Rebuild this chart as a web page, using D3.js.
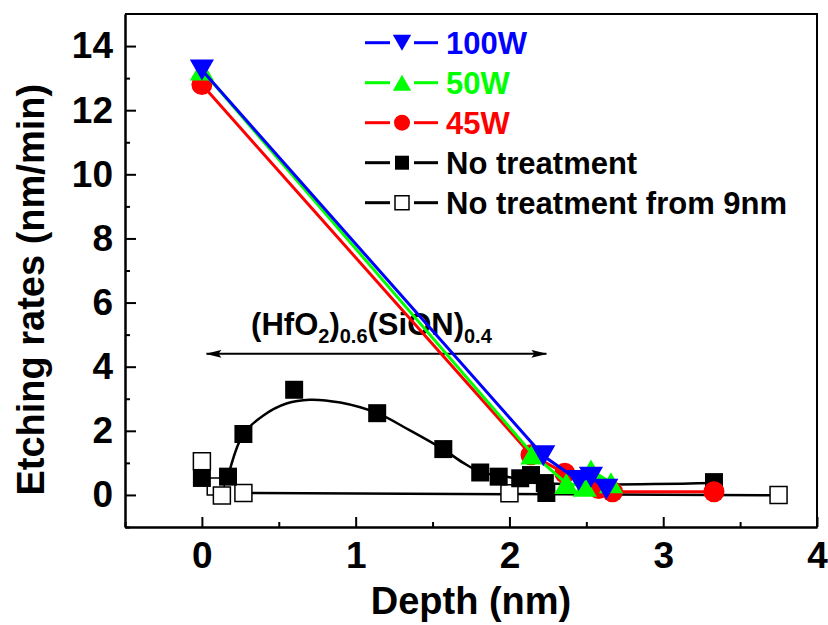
<!DOCTYPE html>
<html>
<head>
<meta charset="utf-8">
<script src="https://cdn.jsdelivr.net/npm/d3@7"></script>
<style>
  body { margin: 0; background: #fff; }
  text { font-family: "Liberation Sans", Arial, sans-serif; font-weight: bold; }
</style>
</head>
<body>
<script>
// data
const depth100W = [0, 2.22, 2.45, 2.53, 2.63];
const rate100W  = [13.25, 1.22, 0.45, 0.55, 0.18];

const depth50W = [0, 2.15, 2.37, 2.49, 2.53, 2.66];
const rate50W  = [13.25, 1.28, 0.36, 0.27, 0.78, 0.38];

const depth45W = [0, 2.14, 2.36, 2.58, 2.67, 3.33];
const rate45W  = [12.8, 1.25, 0.68, 0.2, 0.1, 0.1];

const depthNoTreat = [0, 0.17, 0.27, 0.6, 1.14, 1.57, 1.81, 1.93, 2.07, 2.14, 2.23, 2.24, 3.33];
const rateNoTreat  = [0.53, 0.57, 1.9, 3.28, 2.55, 1.43, 0.7, 0.57, 0.52, 0.62, 0.37, 0.06, 0.4];

// smooth guide line drawn through the "No treatment" points
const fitNoTreatX = [0.17, 0.27, 0.4, 0.55, 0.7, 0.9, 1.14, 1.35, 1.57, 1.7, 1.81, 2.0, 2.23, 3.33];
const fitNoTreatY = [0.57, 1.9, 2.48, 2.85, 2.97, 2.88, 2.55, 2.02, 1.42, 1.0, 0.72, 0.55, 0.37, 0.37];

const depth9nm = [0, 0.09, 0.13, 0.27, 2.0, 3.75];
const rate9nm  = [1.05, 0.26, -0.02, 0.06, 0.05, 0.0];
const fit9nmX = [0.27, 3.75];
const fit9nmY = [0.06, -0.01];

const legendLabels = ["100W", "50W", "45W", "No treatment", "No treatment from 9nm"];
const xTicks = [0, 1, 2, 3, 4];
const yTicks = [0, 2, 4, 6, 8, 10, 12, 14];

let margin = null, width = null, height = null;
let svg = null, plot = null;
let x, y = null;

setupCanvasSize();
appendSvg("body");
setupScales();
appendAxes();
appendAnnotation();
appendSeries();
appendLegend();

function setupCanvasSize() {
  margin = {top: 14, left: 125, bottom: 98, right: 11};
  width = 828 - margin.left - margin.right;
  height = 625 - margin.top - margin.bottom;
}

function appendSvg(domElement) {
  svg = d3.select(domElement).append("svg")
    .attr("width", 828)
    .attr("height", 625);
  plot = svg.append("g")
    .attr("transform", `translate(${margin.left}, ${margin.top})`);
}

function setupScales() {
  x = d3.scaleLinear().domain([-0.5, 4]).range([0, width]);
  y = d3.scaleLinear().domain([-1, 15]).range([height, 0]);
}

function styleAxis(g) {
  g.selectAll("path.domain").attr("stroke", "#000").attr("stroke-width", 2);
  g.selectAll(".tick line").attr("stroke", "#000").attr("stroke-width", 2);
  g.selectAll("text").attr("font-size", 37).attr("fill", "#000");
}

function appendAxes() {
  // minor ticks
  plot.append("g")
    .attr("transform", `translate(0, ${height})`)
    .call(d3.axisBottom(x).tickValues([-0.5, 0.5, 1.5, 2.5, 3.5]).tickSize(-5).tickSizeOuter(0).tickFormat(""))
    .call(styleAxis);
  plot.append("g")
    .call(d3.axisLeft(y).tickValues(d3.range(-1, 15, 2)).tickSize(-5).tickSizeOuter(0).tickFormat(""))
    .call(styleAxis);

  // major ticks
  plot.append("g")
    .attr("transform", `translate(0, ${height})`)
    .call(d3.axisBottom(x).tickValues(xTicks).tickSize(-10).tickSizeOuter(0).tickPadding(15).tickFormat(d3.format("d")))
    .call(styleAxis);
  plot.append("g")
    .call(d3.axisLeft(y).tickValues(yTicks).tickSize(-11).tickSizeOuter(0).tickPadding(12).tickFormat(d3.format("d")))
    .call(styleAxis);

  // frame top and right
  plot.append("path")
    .attr("d", `M0,0H${width}V${height}`)
    .attr("fill", "none").attr("stroke", "#000").attr("stroke-width", 2);

  svg.append("text")
    .attr("x", margin.left + width / 2)
    .attr("y", 614)
    .attr("text-anchor", "middle")
    .attr("font-size", 38)
    .text("Depth (nm)");

  svg.append("text")
    .attr("transform", `translate(44, ${margin.top + y(6.4)}) rotate(-90)`)
    .attr("text-anchor", "middle")
    .attr("font-size", 38)
    .text("Etching rates (nm/min)");
}

function appendAnnotation() {
  const defs = svg.append("defs");
  defs.append("marker")
    .attr("id", "arrowhead")
    .attr("viewBox", "0 0 16 8")
    .attr("refX", 15).attr("refY", 4)
    .attr("markerWidth", 16).attr("markerHeight", 8)
    .attr("markerUnits", "userSpaceOnUse")
    .attr("orient", "auto-start-reverse")
    .append("path").attr("d", "M0,0L16,4L0,8L3,4Z").attr("fill", "#000");

  plot.append("line")
    .attr("x1", x(0.03)).attr("x2", x(2.24))
    .attr("y1", y(4.4)).attr("y2", y(4.4))
    .attr("stroke", "#000").attr("stroke-width", 2)
    .attr("marker-start", "url(#arrowhead)")
    .attr("marker-end", "url(#arrowhead)");

  const t = plot.append("text")
    .attr("x", x(0.32)).attr("y", y(5.0))
    .attr("font-size", 31);
  t.append("tspan").text("(HfO");
  t.append("tspan").attr("font-size", 20).attr("dy", 8).text("2");
  t.append("tspan").attr("dy", -8).text(")");
  t.append("tspan").attr("font-size", 20).attr("dy", 8).text("0.6");
  t.append("tspan").attr("dy", -8).text("(SiON)");
  t.append("tspan").attr("font-size", 20).attr("dy", 8).text("0.4");
}

function markerPath(shape, s) {
  if (shape === "down") {
    const w = s * 1.15, h = s;
    return `M${-w / 2},${-h / 2}L${w / 2},${-h / 2}L0,${h / 2}Z`;
  }
  if (shape === "up") {
    const w = s * 1.15, h = s;
    return `M${-w / 2},${h / 2}L${w / 2},${h / 2}L0,${-h / 2}Z`;
  }
  if (shape === "circle") {
    const r = s / 2;
    return `M${r},0A${r},${r} 0 1,1 ${-r},0A${r},${r} 0 1,1 ${r},0Z`;
  }
  const h = s / 2;
  return `M${-h},${-h}H${h}V${h}H${-h}Z`;
}

function drawLine(xs, ys, color, curve, lw) {
  const pts = xs.map((d, i) => [d, ys[i]]);
  plot.append("path")
    .datum(pts)
    .attr("fill", "none")
    .attr("stroke", color)
    .attr("stroke-width", lw)
    .attr("d", d3.line().x(d => x(d[0])).y(d => y(d[1])).curve(curve));
}

function drawMarkers(xs, ys, shape, size, fill, stroke) {
  const pts = xs.map((d, i) => [d, ys[i]]);
  plot.append("g").selectAll("path")
    .data(pts)
    .enter()
    .append("path")
    .attr("transform", d => `translate(${x(d[0])}, ${y(d[1])})`)
    .attr("d", markerPath(shape, size))
    .attr("fill", fill)
    .attr("stroke", stroke || "none")
    .attr("stroke-width", 1.5);
}

function appendSeries() {
  drawLine(fit9nmX, fit9nmY, "#000", d3.curveLinear, 2.5);
  drawMarkers(depth9nm, rate9nm, "square", 17, "#fff", "#000");

  drawLine(fitNoTreatX, fitNoTreatY, "#000", d3.curveCatmullRom.alpha(0.5), 2.5);
  drawMarkers(depthNoTreat, rateNoTreat, "square", 18, "#000");

  drawLine(depth45W, rate45W, "#ff0000", d3.curveLinear, 3);
  drawMarkers(depth45W, rate45W, "circle", 21, "#ff0000");

  drawLine(depth50W, rate50W, "#00ff00", d3.curveLinear, 3);
  drawMarkers(depth50W, rate50W, "up", 21, "#00ff00");

  drawLine(depth100W, rate100W, "#0000ff", d3.curveLinear, 3);
  drawMarkers(depth100W, rate100W, "down", 21, "#0000ff");
}

function appendLegend() {
  const colors = ["#0000ff", "#00ff00", "#ff0000", "#000", "#000"];
  const shapes = ["down", "up", "circle", "square", "square"];
  const sizes = [16, 16, 16, 14, 14];
  const fills = ["#0000ff", "#00ff00", "#ff0000", "#000", "#fff"];

  const lg = svg.append("g").attr("class", "legend");
  const rows = lg.selectAll("g")
    .data(legendLabels)
    .enter()
    .append("g")
    .attr("transform", (d, i) => `translate(0, ${42.7 + 40 * i})`);

  rows.append("line")
    .attr("x1", 365).attr("x2", 390).attr("y1", 0).attr("y2", 0)
    .attr("stroke", (d, i) => colors[i]).attr("stroke-width", 3);
  rows.append("line")
    .attr("x1", 414).attr("x2", 438).attr("y1", 0).attr("y2", 0)
    .attr("stroke", (d, i) => colors[i]).attr("stroke-width", 3);
  rows.append("path")
    .attr("transform", "translate(402, 0)")
    .attr("d", (d, i) => markerPath(shapes[i], sizes[i]))
    .attr("fill", (d, i) => fills[i])
    .attr("stroke", (d, i) => i === 4 ? "#000" : "none")
    .attr("stroke-width", 1.5);
  rows.append("text")
    .attr("x", 446)
    .attr("y", 11.5)
    .attr("font-size", 31)
    .attr("fill", (d, i) => colors[i])
    .text(d => d);
}
</script>
</body>
</html>
